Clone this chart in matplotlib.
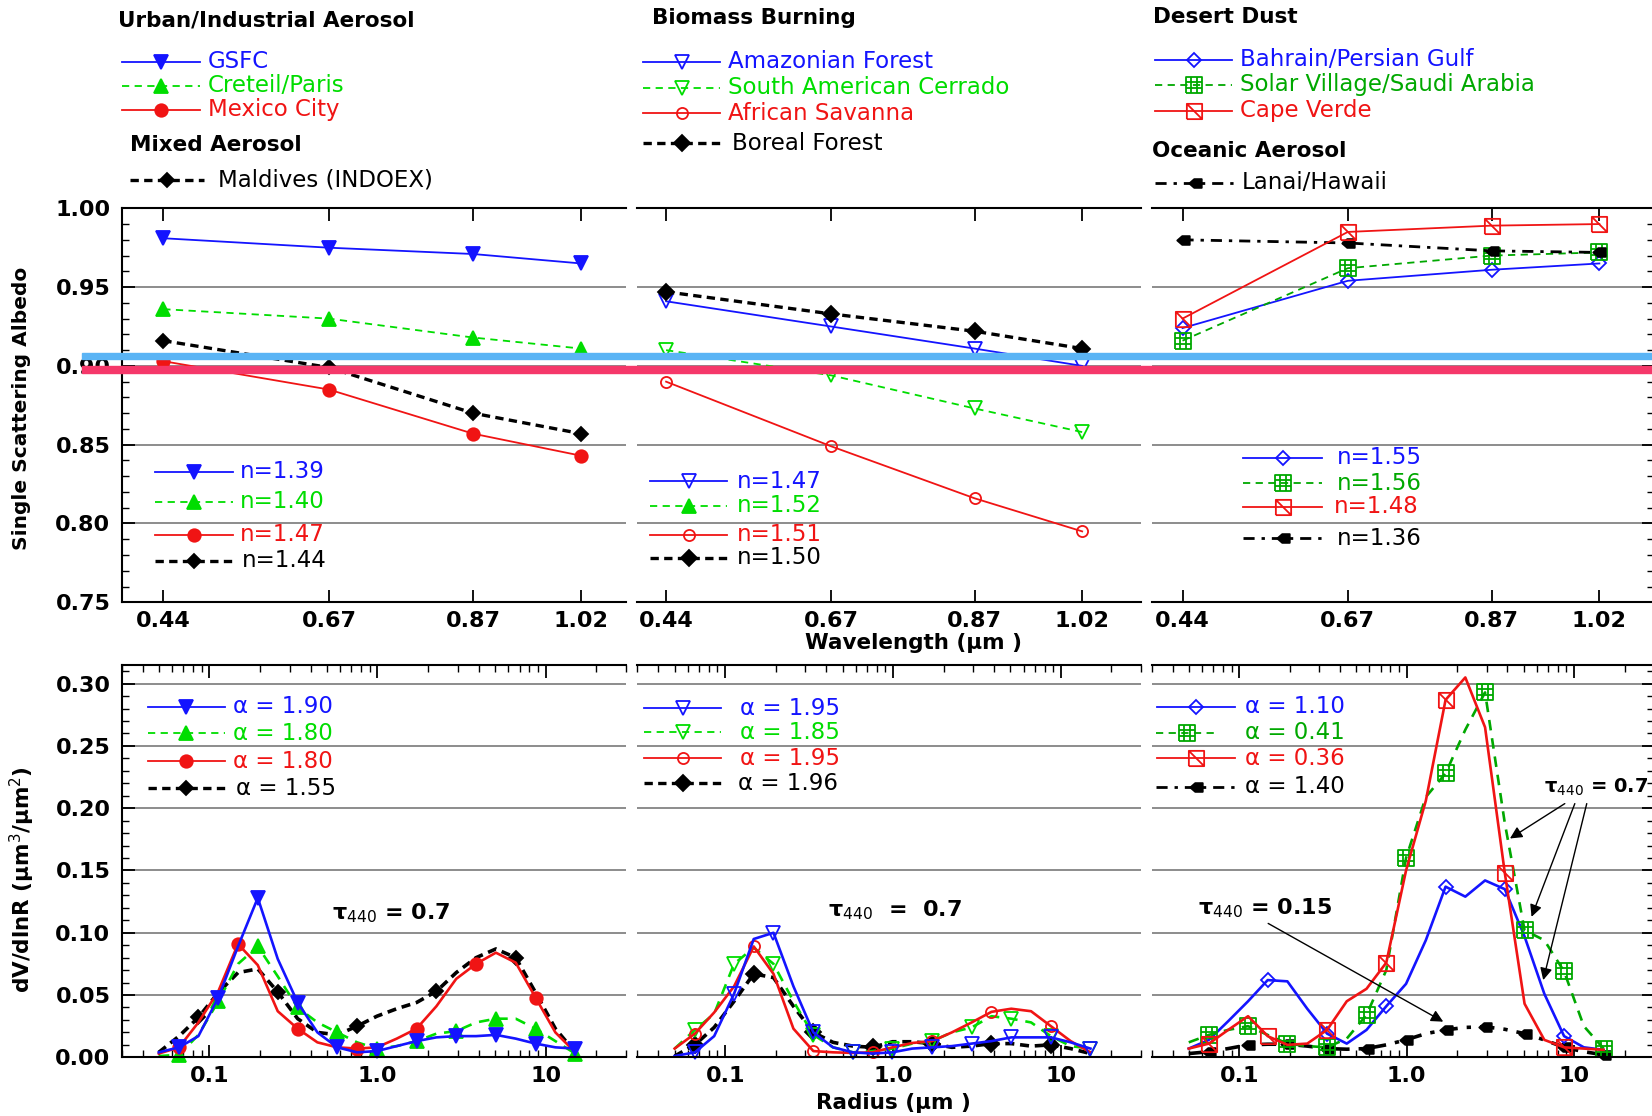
import matplotlib
matplotlib.use('Agg')
import matplotlib.pyplot as plt
from matplotlib.lines import Line2D
from matplotlib.patches import Rectangle
from matplotlib.path import Path
from matplotlib.ticker import MultipleLocator, FixedLocator, LogLocator, NullFormatter

# ---------------- data: single scattering albedo ----------------
WAVELENGTH = [0.44, 0.67, 0.87, 1.02]
WL_LABELS = ['0.44', '0.67', '0.87', '1.02']

ssa_gsfc = [0.981, 0.975, 0.971, 0.965]
ssa_creteil = [0.936, 0.930, 0.918, 0.911]
ssa_mexico = [0.903, 0.885, 0.857, 0.843]
ssa_maldives = [0.916, 0.899, 0.870, 0.857]

ssa_amazon = [0.941, 0.925, 0.911, 0.900]
ssa_cerrado = [0.910, 0.894, 0.873, 0.858]
ssa_savanna = [0.890, 0.849, 0.816, 0.795]
ssa_boreal = [0.947, 0.933, 0.922, 0.911]

ssa_bahrain = [0.924, 0.954, 0.961, 0.965]
ssa_solar = [0.916, 0.962, 0.970, 0.972]
ssa_cape = [0.930, 0.985, 0.989, 0.990]
ssa_lanai = [0.980, 0.978, 0.973, 0.972]

# ---------------- data: volume size distributions ----------------
RADIUS = [0.050, 0.066, 0.086, 0.113, 0.148, 0.194, 0.255, 0.335, 0.439, 0.576, 0.756,
          0.992, 1.302, 1.708, 2.241, 2.940, 3.857, 5.061, 6.641, 8.713, 11.432, 15.000]
R_TICKS = [0.1, 1.0, 10.0]
R_LABELS = ['0.1', '1.0', '10']

dv_gsfc = [0.004, 0.008, 0.017, 0.048, 0.089, 0.128, 0.079, 0.044, 0.020, 0.008, 0.004,
           0.005, 0.009, 0.013, 0.016, 0.017, 0.017, 0.018, 0.015, 0.011, 0.008, 0.007]
dv_creteil = [0.001, 0.002, 0.018, 0.045, 0.075, 0.089, 0.065, 0.040, 0.028, 0.020, 0.012,
              0.007, 0.009, 0.013, 0.019, 0.021, 0.028, 0.031, 0.031, 0.023, 0.013, 0.003]
dv_mexico = [0.003, 0.008, 0.028, 0.053, 0.091, 0.074, 0.037, 0.023, 0.012, 0.008, 0.007,
             0.008, 0.015, 0.023, 0.041, 0.063, 0.075, 0.084, 0.076, 0.048, 0.020, 0.004]
dv_maldives = [0.004, 0.017, 0.032, 0.052, 0.068, 0.071, 0.0525, 0.031, 0.020, 0.018, 0.025,
               0.033, 0.039, 0.044, 0.053, 0.068, 0.080, 0.087, 0.080, 0.052, 0.023, 0.004]

dv_amazon = [0.001, 0.004, 0.017, 0.051, 0.095, 0.100, 0.057, 0.020, 0.008, 0.004, 0.003,
             0.004, 0.007, 0.008, 0.009, 0.011, 0.013, 0.016, 0.016, 0.016, 0.012, 0.007]
dv_cerrado = [0.007, 0.022, 0.035, 0.075, 0.088, 0.075, 0.045, 0.018, 0.008, 0.004, 0.005,
              0.007, 0.011, 0.013, 0.020, 0.024, 0.033, 0.031, 0.028, 0.017, 0.009, 0.007]
dv_savanna = [0.007, 0.019, 0.036, 0.057, 0.089, 0.067, 0.023, 0.005, 0.004, 0.0035, 0.004,
              0.008, 0.0115, 0.013, 0.020, 0.028, 0.0365, 0.039, 0.037, 0.025, 0.013, 0.004]
dv_boreal = [0.001, 0.010, 0.024, 0.045, 0.067, 0.064, 0.041, 0.020, 0.012, 0.009, 0.008,
             0.0125, 0.0125, 0.011, 0.008, 0.009, 0.011, 0.011, 0.009, 0.010, 0.007, 0.003]

dv_bahrain = [0.007, 0.014, 0.029, 0.045, 0.062, 0.061, 0.039, 0.019, 0.011, 0.022, 0.041,
              0.059, 0.094, 0.137, 0.129, 0.142, 0.135, 0.097, 0.051, 0.017, 0.008, 0.006]
dv_solar = [0.012, 0.018, 0.022, 0.025, 0.018, 0.011, 0.009, 0.008, 0.015, 0.034, 0.070,
            0.160, 0.209, 0.228, 0.263, 0.293, 0.188, 0.102, 0.094, 0.069, 0.025, 0.007]
dv_cape = [0.007, 0.011, 0.022, 0.033, 0.017, 0.010, 0.011, 0.022, 0.045, 0.055, 0.076,
           0.150, 0.206, 0.287, 0.305, 0.265, 0.148, 0.043, 0.014, 0.008, 0.007, 0.006]
dv_lanai = [0.003, 0.0045, 0.007, 0.010, 0.0105, 0.0105, 0.009, 0.007, 0.0065, 0.007, 0.010,
            0.014, 0.019, 0.022, 0.024, 0.0245, 0.0225, 0.019, 0.014, 0.008, 0.0045, 0.002]

# ---------------- styles ----------------
BLUE = '#1414ff'
GREEN = '#00dd00'
DGREEN = '#00a800'
RED = '#f01414'

LEG_SIZE = 16.5
TITLE_SIZE = 15.5
TICK_SIZE = 16
LABEL_SIZE = 15


def grid_box():
    v = [(-1, -1), (1, -1), (1, 1), (-1, 1), (-1, -1),
         (-1, -1 / 3), (1, -1 / 3), (-1, 1 / 3), (1, 1 / 3),
         (-1 / 3, -1), (-1 / 3, 1), (1 / 3, -1), (1 / 3, 1)]
    c = [Path.MOVETO] + [Path.LINETO] * 4 + [Path.MOVETO, Path.LINETO] * 4
    return Path(v, c)


def diag_box():
    v = [(-1, -1), (1, -1), (1, 1), (-1, 1), (-1, -1), (-1, 1), (1, -1)]
    c = [Path.MOVETO] + [Path.LINETO] * 4 + [Path.MOVETO, Path.LINETO]
    return Path(v, c)


def arrow_box():
    v = [(-1, 0), (-0.2, 0.7), (1, 0.7), (1, -0.7), (-0.2, -0.7), (-1, 0)]
    c = [Path.MOVETO] + [Path.LINETO] * 4 + [Path.CLOSEPOLY]
    return Path(v, c)


def sty(color, ls, lw, marker, ms, mfc):
    return dict(color=color, linestyle=ls, linewidth=lw, marker=marker,
                markersize=ms, markerfacecolor=mfc, markeredgecolor=color,
                markeredgewidth=1.3)


DASH = (0, (4, 3))
BLKDASH = (0, (2.5, 1.6))
DASHDOT = (0, (4, 2.5, 1.2, 2.5))

S = {
    'gsfc': sty(BLUE, '-', 1.3, 'v', 10, BLUE),
    'creteil': sty(GREEN, DASH, 1.3, '^', 10, GREEN),
    'mexico': sty(RED, '-', 1.3, 'o', 9, RED),
    'maldives': sty('k', BLKDASH, 2.4, 'D', 7, 'k'),
    'amazon': sty(BLUE, '-', 1.3, 'v', 10, 'none'),
    'cerrado': sty(GREEN, DASH, 1.3, 'v', 10, 'none'),
    'cerrado_leg': sty(GREEN, DASH, 1.3, '^', 10, GREEN),
    'savanna': sty(RED, '-', 1.3, 'o', 8, 'none'),
    'boreal': sty('k', BLKDASH, 2.4, 'D', 8, 'k'),
    'bahrain': sty(BLUE, '-', 1.3, 'D', 7, 'none'),
    'solar': sty(DGREEN, DASH, 1.3, grid_box(), 11, 'none'),
    'cape': sty(RED, '-', 1.3, diag_box(), 11, 'none'),
    'lanai': sty('k', DASHDOT, 2.0, arrow_box(), 9, 'k'),
}

# ---------------- figure layout (pixels) ----------------
W, H = 1652, 1116
fig = plt.figure(figsize=(W / 100, H / 100), dpi=100)


def fx(x):
    return x / W


def fy(y):
    return 1 - y / H


TOP_Y = (208.3, 602.3)
BOT_Y = (665.0, 1057.3)
COLS = [(121.5, 625.8), (637.4, 1141.0), (1151.6, 1654.0)]
TOP_XLIM = [(0.382, 1.082), (0.400, 1.102), (0.397, 1.096)]

GRID_KW = dict(color='#8c8c8c', linewidth=1.4)


def make_axes(col, rows):
    x0, x1 = COLS[col]
    y0, y1 = rows
    ax = fig.add_axes([fx(x0), fy(y1), (x1 - x0) / W, (y1 - y0) / H])
    ax.set_axisbelow(True)
    ax.spines['right'].set_visible(False)
    if col > 0:
        ax.spines['left'].set_visible(False)
    for s in ax.spines.values():
        s.set_linewidth(1.5)
    ax.tick_params(which='both', direction='in', top=True, bottom=True,
                   left=(col == 0), right=(col == 2), labelleft=(col == 0))
    ax.tick_params(which='major', length=9, width=1.3, labelsize=TICK_SIZE)
    ax.tick_params(which='minor', length=5, width=1.0)
    ax.yaxis.grid(True, which='major', **GRID_KW)
    return ax


def draw(ax, x, y, key, lw=None, every=None):
    kw = dict(S[key])
    if lw is not None:
        kw['linewidth'] = lw
    ax.plot(x, y, markevery=every, clip_on=False, **kw)


# ---------------- top row: single scattering albedo ----------------
top_sets = [
    [('maldives', ssa_maldives), ('creteil', ssa_creteil), ('mexico', ssa_mexico), ('gsfc', ssa_gsfc)],
    [('savanna', ssa_savanna), ('cerrado', ssa_cerrado), ('amazon', ssa_amazon), ('boreal', ssa_boreal)],
    [('bahrain', ssa_bahrain), ('solar', ssa_solar), ('lanai', ssa_lanai), ('cape', ssa_cape)],
]
for col, series in enumerate(top_sets):
    ax = make_axes(col, TOP_Y)
    ax.set_xlim(*TOP_XLIM[col])
    ax.set_ylim(0.75, 1.00)
    ax.set_xticks(WAVELENGTH)
    ax.set_xticklabels(WL_LABELS, fontweight='bold')
    ax.tick_params(axis='x', pad=6)
    ax.tick_params(axis='y', pad=8)
    ax.yaxis.set_major_locator(MultipleLocator(0.05))
    ax.yaxis.set_minor_locator(MultipleLocator(0.01))
    ax.yaxis.set_major_formatter(lambda v, p: f'{v:.2f}')
    for lab in ax.get_yticklabels():
        lab.set_fontweight('bold')
    for key, vals in series:
        draw(ax, WAVELENGTH, vals, key)

# ---------------- bottom row: size distributions ----------------
bot_sets = [
    [('maldives', dv_maldives, (2, 4)), ('creteil', dv_creteil, (1, 2)),
     ('mexico', dv_mexico, (1, 3)), ('gsfc', dv_gsfc, (1, 2))],
    [('boreal', dv_boreal, (1, 3)), ('cerrado', dv_cerrado, (1, 2)),
     ('savanna', dv_savanna, (1, 3)), ('amazon', dv_amazon, (1, 2))],
    [('lanai', dv_lanai, (1, 2)), ('bahrain', dv_bahrain, (4, 3)),
     ('solar', dv_solar, (1, 2)), ('cape', dv_cape, (1, 3))],
]
bot_axes = []
for col, series in enumerate(bot_sets):
    ax = make_axes(col, BOT_Y)
    ax.set_xscale('log')
    ax.set_xlim(0.03, 30)
    ax.set_ylim(0, 0.315)
    ax.xaxis.set_major_locator(FixedLocator(R_TICKS))
    ax.xaxis.set_minor_locator(LogLocator(subs=(2, 3, 4, 5, 6, 7, 8, 9), numticks=20))
    ax.xaxis.set_minor_formatter(NullFormatter())
    ax.set_xticklabels(R_LABELS, fontweight='bold')
    ax.tick_params(axis='x', pad=6)
    ax.tick_params(axis='y', pad=8)
    ax.yaxis.set_major_locator(MultipleLocator(0.05))
    ax.yaxis.set_minor_locator(MultipleLocator(0.01))
    ax.yaxis.set_major_formatter(lambda v, p: f'{v:.2f}')
    for lab in ax.get_yticklabels():
        lab.set_fontweight('bold')
    for key, vals, every in series:
        lw = 2.6 if S[key]['color'] == 'k' else 1.9
        draw(ax, RADIUS, vals, key, lw=lw, every=every)
    bot_axes.append(ax)

TAU = 'τ$_{440}$'
bot_axes[0].text(0.537, 0.116, TAU + ' = 0.7', fontsize=16, fontweight='bold', va='center')
bot_axes[1].text(0.409, 0.118, TAU + '  =  0.7', fontsize=16, fontweight='bold', va='center')
axr = bot_axes[2]
axr.text(0.057, 0.1195, TAU + ' = 0.15', fontsize=16, fontweight='bold', va='center')
axr.text(6.6, 0.217, TAU + ' = 0.7', fontsize=14, fontweight='bold', va='center', clip_on=False)
ARROW = dict(arrowstyle='-|>', color='k', lw=1.0, mutation_scale=18, shrinkA=0, shrinkB=0)
axr.annotate('', xy=(1.654, 0.0286), xytext=(0.149, 0.1075), arrowprops=ARROW)
axr.annotate('', xy=(4.14, 0.1757), xytext=(8.8, 0.2037), arrowprops=ARROW)
axr.annotate('', xy=(5.57, 0.1128), xytext=(10.1, 0.2037), arrowprops=ARROW)
axr.annotate('', xy=(6.54, 0.062), xytext=(11.9, 0.2037), arrowprops=ARROW)

# ---------------- axis titles ----------------
fig.text(fx(22), fy(408), 'Single Scattering Albedo', rotation=90, fontsize=14.5,
         fontweight='bold', ha='center', va='center')
fig.text(fx(22), fy(880), 'dV/dlnR (μm$^3$/μm$^2$)', rotation=90, fontsize=15.5,
         fontweight='bold', ha='center', va='center')
fig.text(fx(913), fy(643), 'Wavelength (μm )', fontsize=LABEL_SIZE + 0.5, fontweight='bold',
         ha='center', va='center')
fig.text(fx(893), fy(1103), 'Radius (μm )', fontsize=LABEL_SIZE + 0.5, fontweight='bold',
         ha='center', va='center')


# ---------------- legends ----------------
def entry(x0, x1, y, key, text, tx, tcolor=None):
    st = S[key]
    xs = [fx(x0), fx((x0 + x1) / 2), fx(x1)]
    fig.add_artist(Line2D(xs, [fy(y)] * 3, transform=fig.transFigure,
                          markevery=[1], **st))
    fig.text(fx(tx), fy(y), text, color=tcolor or st['color'], fontsize=LEG_SIZE,
             va='center', ha='left')


def title(x, y, text):
    fig.text(fx(x), fy(y), text, fontsize=TITLE_SIZE, fontweight='bold', va='center', ha='left')


title(118, 20.7, 'Urban/Industrial Aerosol')
entry(122, 200, 61.7, 'gsfc', 'GSFC', 208)
entry(122, 200, 86, 'creteil', 'Creteil/Paris', 208)
entry(122, 200, 109.5, 'mexico', 'Mexico City', 208)
title(130, 145, 'Mixed Aerosol')
entry(130, 204, 180, 'maldives', 'Maldives (INDOEX)', 218, 'k')

title(652, 18.3, 'Biomass Burning')
entry(643, 720, 62, 'amazon', 'Amazonian Forest', 728)
entry(643, 720, 88, 'cerrado', 'South American Cerrado', 728)
entry(643, 720, 113, 'savanna', 'African Savanna', 728)
entry(643, 720, 143, 'boreal', 'Boreal Forest', 732, 'k')

title(1153, 17.3, 'Desert Dust')
entry(1155, 1232, 60, 'bahrain', 'Bahrain/Persian Gulf', 1240)
entry(1155, 1232, 85, 'solar', 'Solar Village/Saudi Arabia', 1240)
entry(1155, 1232, 111, 'cape', 'Cape Verde', 1240)
title(1151.7, 150.7, 'Oceanic Aerosol')
entry(1155, 1235, 182.7, 'lanai', 'Lanai/Hawaii', 1241.7, 'k')

# refractive index legends
entry(155, 232.6, 471.7, 'gsfc', 'n=1.39', 240)
entry(155, 232.6, 501.7, 'creteil', 'n=1.40', 240)
entry(155, 232.6, 535, 'mexico', 'n=1.47', 240)
entry(155, 232.6, 560.7, 'maldives', 'n=1.44', 241.6, 'k')

entry(649.7, 727.4, 481, 'amazon', 'n=1.47', 736.6)
entry(649.7, 727.4, 506, 'cerrado_leg', 'n=1.52', 736.6)
entry(649.7, 727.4, 535, 'savanna', 'n=1.51', 736.6)
entry(649.7, 727.4, 557.7, 'boreal', 'n=1.50', 736.6, 'k')

entry(1243, 1322, 457.7, 'bahrain', 'n=1.55', 1336.7)
entry(1243, 1322, 483.3, 'solar', 'n=1.56', 1336.7)
entry(1243, 1322, 506.7, 'cape', 'n=1.48', 1334)
entry(1243, 1322, 538.3, 'lanai', 'n=1.36', 1336.7, 'k')

# Angstrom exponent legends
entry(147.8, 224.5, 706.7, 'gsfc', 'α = 1.90', 233)
entry(147.8, 224.5, 733.3, 'creteil', 'α = 1.80', 233)
entry(147.8, 224.5, 761, 'mexico', 'α = 1.80', 233)
entry(147.8, 224.5, 788.3, 'maldives', 'α = 1.55', 236, 'k')

entry(644, 721, 708.3, 'amazon', 'α = 1.95', 740)
entry(644, 721, 732.3, 'cerrado', 'α = 1.85', 740)
entry(644, 721, 758.3, 'savanna', 'α = 1.95', 740)
entry(644, 721, 783.3, 'boreal', 'α = 1.96', 738, 'k')

entry(1157, 1235, 706.7, 'bahrain', 'α = 1.10', 1245)
entry(1156, 1218, 732.7, 'solar', 'α = 0.41', 1245)
entry(1157, 1235, 758.3, 'cape', 'α = 0.36', 1245)
entry(1156, 1235, 786.7, 'lanai', 'α = 1.40', 1245, 'k')

# highlight stripes drawn across the top row
fig.add_artist(Rectangle((fx(82), fy(359)), (W - 82) / W, 6 / H,
                         transform=fig.transFigure, color='#5ab4f5', zorder=10))
fig.add_artist(Rectangle((fx(82), fy(373)), (W - 82) / W, 7 / H,
                         transform=fig.transFigure, color='#f5386a', zorder=10))

fig.savefig('out.png', dpi=100)
